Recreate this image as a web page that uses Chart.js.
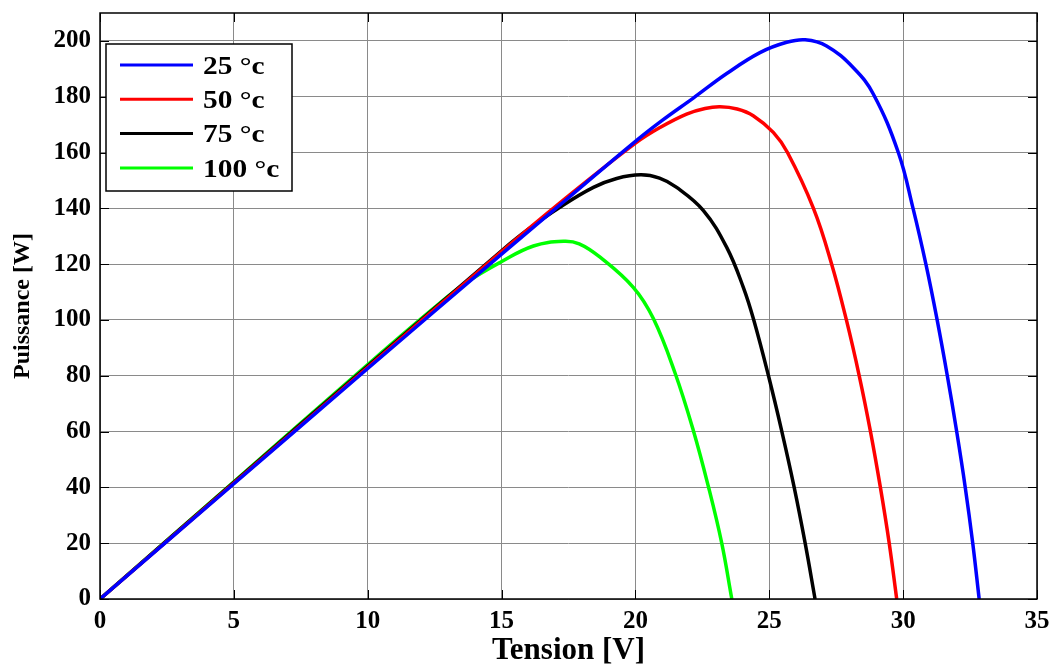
<!DOCTYPE html>
<html><head><meta charset="utf-8">
<script src="https://cdn.jsdelivr.net/npm/chart.js@4/dist/chart.umd.min.js"></script>
<style>html,body{margin:0;padding:0;background:#fff;}#wrap{width:1055px;height:668px;position:relative;}</style>
</head><body><div id="wrap"><canvas id="c" width="1055" height="668"></canvas></div>
<script>
// ---- data ----
const seriesLabels = ['25 °c', '50 °c', '75 °c', '100 °c'];
const seriesColors = ['#0000ff', '#ff0000', '#000000', '#00ff00'];

const v25 = [0, 5, 10, 15, 17.5, 20, 21, 22.16, 23.41, 24.65, 25.65, 26.34, 27.14, 28.14, 28.89, 29.82, 30.37, 30.85, 31.27, 31.65, 32.0, 32.32, 32.6, 32.84];
const p25 = [0, 41.3, 82.6, 123.6, 143.8, 164, 171.5, 179.5, 188.3, 195.8, 199.5, 200.4, 198.2, 190.4, 180.9, 160, 140, 120, 100, 80, 60, 40, 20, 0];

const v50 = [0, 5, 10, 15, 17.18, 19.99, 20.92, 21.91, 22.6, 23.16, 23.8, 24.4, 25.15, 25.68, 26.65, 27.33, 27.88, 28.36, 28.78, 29.15, 29.48, 29.76];
const p50 = [0, 41.5, 83, 124.5, 142, 163.3, 169, 173.8, 175.8, 176.4, 175.6, 173.2, 167.2, 160, 140, 120, 100, 80, 60, 40, 20, 0];

const v75 = [0, 5, 10, 15, 16, 17.18, 18.43, 19.3, 20.2, 20.9, 21.54, 22.54, 23.41, 24.03, 24.42, 24.97, 25.47, 25.93, 26.34, 26.71];
const p75 = [0, 41.8, 83.5, 124.8, 132.5, 140.4, 147.5, 150.7, 152, 150.8, 147.5, 139.2, 126, 111.7, 100, 80, 60, 40, 20, 0];

const v100 = [0, 5, 10, 12.5, 13.7, 14.94, 16.19, 17.31, 17.9, 18.68, 19.92, 20.67, 21.48, 22.16, 22.72, 23.22, 23.6];
const p100 = [0, 42, 84, 104.5, 113.5, 120.6, 126.5, 128.2, 127.3, 122.5, 111.7, 100.5, 81, 60.5, 40.5, 20.2, 0];

const xTickValues = [0, 5, 10, 15, 20, 25, 30, 35];
const yTickValues = [0, 20, 40, 60, 80, 100, 120, 140, 160, 180, 200];
const xTitle = 'Tension [V]';
const yTitle = 'Puissance [W]';

// ---- build chart ----
const FONT = "'Liberation Serif','Times New Roman',serif";
const vs = [v25, v50, v75, v100];
const ps = [p25, p50, p75, p100];
const datasets = seriesLabels.map((lab, i) => ({
  label: lab,
  data: vs[i].map((v, j) => ({x: v, y: ps[i][j]})),
  borderColor: seriesColors[i],
  backgroundColor: seriesColors[i],
  borderWidth: 3.5,
  pointRadius: 0,
  showLine: true,
  fill: false,
  tension: 0.4
}));

const framePlugin = {
  id: 'frame',
  afterDraw(chart) {
    const {ctx, chartArea: {left, right, top, bottom}, scales: {x, y}} = chart;
    ctx.save();
    ctx.strokeStyle = '#000';
    ctx.lineWidth = 1;
    const L = 9;
    ctx.beginPath();
    x.ticks.forEach(t => {
      const px = Math.round(x.getPixelForValue(t.value)) + 0.5;
      ctx.moveTo(px, bottom); ctx.lineTo(px, bottom - L);
      ctx.moveTo(px, top); ctx.lineTo(px, top + L);
    });
    y.ticks.forEach(t => {
      const py = Math.round(y.getPixelForValue(t.value)) + 0.5;
      ctx.moveTo(left, py); ctx.lineTo(left + L, py);
      ctx.moveTo(right, py); ctx.lineTo(right - L, py);
    });
    ctx.stroke();
    ctx.lineWidth = 1.5;
    ctx.strokeRect(left, top, right - left, bottom - top);

    // legend box inside the plot
    const bx = 106, by = 44, bw = 186, bh = 147;
    ctx.fillStyle = '#fff';
    ctx.fillRect(bx, by, bw, bh);
    ctx.lineWidth = 1.5;
    ctx.strokeStyle = '#000';
    ctx.strokeRect(bx, by, bw, bh);
    ctx.font = 'bold 26px ' + FONT;
    ctx.textBaseline = 'middle';
    ctx.textAlign = 'left';
    chart.data.datasets.forEach((ds, i) => {
      const ly = by + 21 + i * 34.3;
      ctx.strokeStyle = ds.borderColor;
      ctx.lineWidth = 3;
      ctx.beginPath();
      ctx.moveTo(bx + 14, ly); ctx.lineTo(bx + 87, ly);
      ctx.stroke();
      ctx.fillStyle = '#000';
      ctx.save();
      ctx.translate(bx + 97, ly + 2);
      ctx.scale(1.13, 1);
      ctx.fillText(ds.label, 0, 0);
      ctx.restore();
    });
    ctx.restore();
  }
};

new Chart(document.getElementById('c'), {
  type: 'scatter',
  data: {datasets},
  options: {
    responsive: false,
    animation: false,
    devicePixelRatio: 1,
    layout: {padding: {top: 13, right: 18, left: 0, bottom: 0}},
    plugins: {legend: {display: false}, tooltip: {enabled: false}},
    scales: {
      x: {
        type: 'linear', min: 0, max: 35,
        afterBuildTicks: s => { s.ticks = xTickValues.map(v => ({value: v})); },
        afterFit: s => { s.height = 69; s.paddingLeft = 0; s.paddingRight = 0; },
        grid: {color: '#8a8a8a', lineWidth: 1, drawTicks: false},
        border: {display: false},
        ticks: {color: '#000', padding: 8, font: {family: FONT, size: 25, weight: 'bold'}},
        title: {display: true, text: xTitle, color: '#000', padding: {top: 0, bottom: 2}, font: {family: FONT, size: 31, weight: 'bold', lineHeight: 1}}
      },
      y: {
        type: 'linear', min: 0, max: 210,
        afterBuildTicks: s => { s.ticks = yTickValues.map(v => ({value: v})); },
        afterFit: s => { s.width = 100; s.paddingTop = 0; s.paddingBottom = 0; },
        grid: {color: '#8a8a8a', lineWidth: 1, drawTicks: false},
        border: {display: false},
        ticks: {color: '#000', padding: 9, font: {family: FONT, size: 25, weight: 'bold'}},
        title: {display: true, text: yTitle, color: '#000', padding: {top: 11, bottom: 0}, font: {family: FONT, size: 24, weight: 'bold', lineHeight: 1}}
      }
    }
  },
  plugins: [framePlugin]
});
</script>
</body></html>
